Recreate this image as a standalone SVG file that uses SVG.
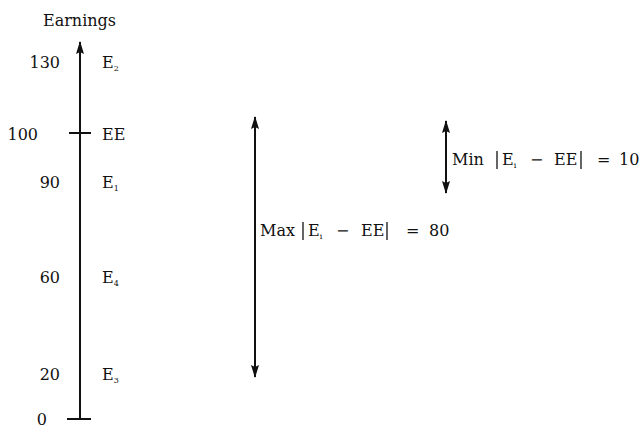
<svg xmlns="http://www.w3.org/2000/svg" width="642" height="428" viewBox="0 0 642 428">
<style>
text{font-family:"DejaVu Serif","Liberation Serif",serif;font-size:16px;fill:#111}
.sub{font-size:8px}
.ax{stroke:#111;stroke-width:2;fill:none}
.bar{stroke:#111;stroke-width:1.3}
</style>
<defs>
<marker id="ah" viewBox="0 0 13 8" refX="12" refY="4" markerWidth="13" markerHeight="8" markerUnits="userSpaceOnUse" orient="auto-start-reverse">
<path d="M0,0 L13,4 L0,8 L2,4 z" fill="#111"/>
</marker>
</defs>
<g id="connectors">
<line class="ax" x1="80" y1="419" x2="80" y2="42" marker-end="url(#ah)"/>
<line class="ax" x1="69" y1="133" x2="91" y2="133"/>
<line class="ax" x1="67" y1="419" x2="91" y2="419"/>
<line class="ax" x1="255" y1="117" x2="255" y2="377" marker-start="url(#ah)" marker-end="url(#ah)"/>
<line class="ax" x1="446" y1="121" x2="446" y2="193" marker-start="url(#ah)" marker-end="url(#ah)"/>
</g>
<g id="axis-labels">
<text x="43" y="26">Earnings</text>
<text x="60" y="68" text-anchor="end">130</text>
<text x="38" y="140" text-anchor="end">100</text>
<text x="60" y="188" text-anchor="end">90</text>
<text x="60" y="283" text-anchor="end">60</text>
<text x="60" y="380" text-anchor="end">20</text>
<text x="47" y="425" text-anchor="end">0</text>
</g>
<g id="E2"><text x="102" y="68">E<tspan class="sub" dy="3">2</tspan></text></g>
<g id="EE"><text x="102" y="140">EE</text></g>
<g id="E1"><text x="102" y="188">E<tspan class="sub" dy="3">1</tspan></text></g>
<g id="E4"><text x="102" y="283">E<tspan class="sub" dy="3">4</tspan></text></g>
<g id="E3"><text x="102" y="380">E<tspan class="sub" dy="3">3</tspan></text></g>
<g id="max">
<text y="236"><tspan x="260">Max</tspan><tspan x="308">E</tspan><tspan class="sub" dy="3">i</tspan><tspan x="336" dy="-3">−</tspan><tspan x="361">EE</tspan><tspan x="406">=</tspan><tspan x="429">80</tspan></text>
<line class="bar" x1="303" y1="222" x2="303" y2="240"/>
<line class="bar" x1="387" y1="222" x2="387" y2="240"/>
</g>
<g id="min">
<text y="165"><tspan x="452">Min</tspan><tspan x="502">E</tspan><tspan class="sub" dy="3">i</tspan><tspan x="530" dy="-3">−</tspan><tspan x="554">EE</tspan><tspan x="597">=</tspan><tspan x="619">10</tspan></text>
<line class="bar" x1="497" y1="151" x2="497" y2="169"/>
<line class="bar" x1="581" y1="151" x2="581" y2="169"/>
</g>
</svg>
